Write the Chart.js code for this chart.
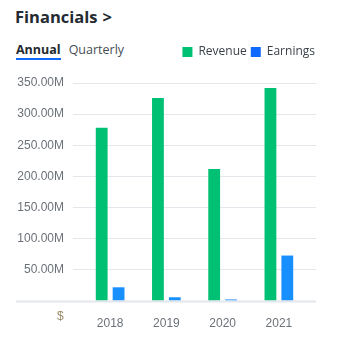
<!DOCTYPE html>
<html>
<head>
<meta charset="utf-8">
<script src="https://cdn.jsdelivr.net/npm/chart.js@4"></script>
<style>
  html, body { margin: 0; padding: 0; background: #fff; }
  body { width: 341px; height: 342px; position: relative; overflow: hidden; font-family: "Open Sans", sans-serif; color: #232a31; }
  .title { position: absolute; left: 15px; top: 5px; font-size: 16.5px; font-weight: 700; }
  .title .chev { margin-left: 5px; }
  .tabs { position: absolute; left: 16px; top: 41px; font-size: 12.5px; }
  .tab { display: inline-block; margin-right: 8px; padding-bottom: 0; }
  .tab.active { font-weight: 700; border-bottom: 2px solid #0f69ff; }
  .tab.muted { color: #464e56; }
  .cur { position: absolute; left: 57px; top: 309px; font: 12px "Liberation Sans", Arial, sans-serif; color: #9a8a66; }
  #wrap { position: absolute; left: 0; top: 0; width: 341px; height: 342px; }
</style>
</head>
<body>
<div class="title">Financials<span class="chev">&gt;</span></div>
<div class="tabs"><span class="tab active">Annual</span><span class="tab muted">Quarterly</span></div>
<div id="wrap"><canvas id="chart"></canvas></div>
<div class="cur">$</div>
<script>
'use strict';

// ── Data ─────────────────────────────────────────────────────
const years    = ['2018', '2019', '2020', '2021'];
const revenue  = [278e6, 326e6, 212e6, 342e6];
const earnings = [22e6, 6e6, 2.5e6, 73e6];
const yTicks   = [0, 50e6, 100e6, 150e6, 200e6, 250e6, 300e6, 350e6];

const GREEN = '#00c073';
const BLUE_BAR = '#188fff';
const BLUE_KEY = '#0f69ff';
const GRID = '#e6e7ec';

// push the plot down below the legend
const legendGap = {
  id: 'legendGap',
  beforeInit(chart) {
    const fit = chart.legend.fit;
    chart.legend.fit = function() {
      fit.bind(chart.legend)();
      this.height += 15;
    };
  }
};

// baseline running under the axis labels too
const baseLine = {
  id: 'baseLine',
  afterDatasetsDraw(chart) {
    const { ctx, scales } = chart;
    const y = Math.round(scales.y.getPixelForValue(0)) + 0.5;
    ctx.save();
    ctx.strokeStyle = '#e3e6ed';
    ctx.lineWidth = 2;
    ctx.beginPath();
    ctx.moveTo(16, y);
    ctx.lineTo(316, y);
    ctx.stroke();
    ctx.restore();
  }
};

new Chart(document.getElementById('chart'), {
  type: 'bar',
  data: {
    labels: years,
    datasets: [
      { label: 'Revenue', data: revenue, backgroundColor: GREEN },
      { label: 'Earnings', data: earnings, backgroundColor: BLUE_BAR }
    ]
  },
  options: {
    responsive: true,
    maintainAspectRatio: false,
    animation: false,
    layout: { padding: { top: 42, right: 22, left: 0, bottom: 0 } },
    datasets: { bar: { categoryPercentage: 0.6, barPercentage: 0.7 } },
    scales: {
      x: {
        grid: { display: false },
        border: { display: false },
        ticks: { padding: 7, color: '#6b7178', font: { family: 'Liberation Sans', size: 12 } },
        afterFit: (s) => { s.height = 41; }
      },
      y: {
        min: 0, max: 350e6,
        afterBuildTicks: (s) => { s.ticks = yTicks.map(v => ({ value: v })); },
        grid: { color: GRID, tickLength: 9, tickColor: GRID },
        border: { display: false },
        ticks: {
          padding: 9,
          color: '#6b7178',
          font: { family: 'Liberation Sans', size: 12 },
          callback: (v) => v === 0 ? '' : (v / 1e6).toFixed(2) + 'M'
        },
        afterFit: (s) => { s.width = 82; }
      },
      y2: {
        position: 'right',
        min: 0, max: 350e6,
        afterBuildTicks: (s) => { s.ticks = yTicks.map(v => ({ value: v })); },
        grid: { drawOnChartArea: false, color: GRID, tickLength: 9, tickColor: GRID },
        border: { display: false },
        ticks: { display: false },
        afterFit: (s) => { s.width = 12; }
      }
    },
    plugins: {
      tooltip: { enabled: false },
      legend: {
        position: 'top',
        align: 'end',
        labels: {
          boxWidth: 10,
          boxHeight: 10,
          padding: 4,
          color: '#3b4249',
          font: { family: 'Open Sans', size: 12 },
          generateLabels: (chart) => chart.data.datasets.map((ds, i) => ({
            text: ds.label,
            fillStyle: i === 0 ? GREEN : BLUE_KEY,
            strokeStyle: 'transparent',
            lineWidth: 0,
            fontColor: '#3b4249',
            datasetIndex: i
          }))
        }
      }
    }
  },
  plugins: [legendGap, baseLine]
});
</script>
</body>
</html>
